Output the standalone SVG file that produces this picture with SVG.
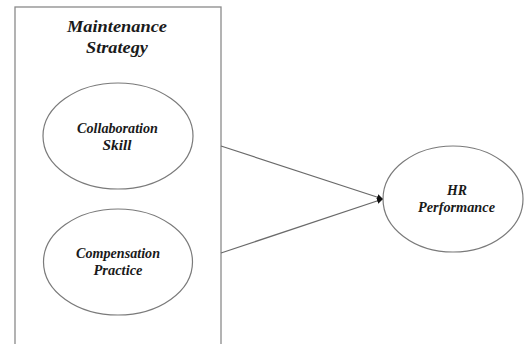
<svg xmlns="http://www.w3.org/2000/svg" width="524" height="344" viewBox="0 0 524 344">
<style>
.box{fill:none;stroke:#8a8a8a;stroke-width:1.3}
.node{fill:#fff;stroke:#7a7a7a;stroke-width:1.2}
.edge{stroke:#6a6a6a;stroke-width:1.2;fill:none}
.t{fill:#1a1a1a}
</style>
<defs>
<marker id="arr" markerWidth="8" markerHeight="8" refX="6" refY="3" orient="auto" markerUnits="userSpaceOnUse">
<path d="M0,0 L6,3 L0,6 z" fill="#111"/>
</marker>
</defs>
<rect width="524" height="344" fill="#fff"/>
<g id="group-maintenance">
<rect class="box" x="15" y="7" width="206" height="345"/>
<g class="t" font-family="Liberation Serif, serif" font-style="italic" font-weight="bold" font-size="17.5" text-anchor="middle">
<text x="117" y="32" textLength="100" lengthAdjust="spacingAndGlyphs">Maintenance</text>
<text x="117" y="53" textLength="62" lengthAdjust="spacingAndGlyphs">Strategy</text>
</g>
</g>
<g id="connectors">
<line class="edge" x1="221" y1="146" x2="383" y2="199" marker-end="url(#arr)"/>
<line class="edge" x1="221" y1="253" x2="383" y2="199" marker-end="url(#arr)"/>
</g>
<g id="collaboration">
<ellipse class="node" cx="118" cy="136" rx="75" ry="53"/>
<g class="t" font-family="Liberation Serif, serif" font-style="italic" font-weight="bold" font-size="14.5" text-anchor="middle">
<text x="117.5" y="133" textLength="81" lengthAdjust="spacingAndGlyphs">Collaboration</text>
<text x="117" y="150" textLength="29" lengthAdjust="spacingAndGlyphs">Skill</text>
</g>
</g>
<g id="compensation">
<ellipse class="node" cx="118" cy="262" rx="74.5" ry="53"/>
<g class="t" font-family="Liberation Serif, serif" font-style="italic" font-weight="bold" font-size="14.5" text-anchor="middle">
<text x="118" y="258" textLength="84" lengthAdjust="spacingAndGlyphs">Compensation</text>
<text x="118" y="275" textLength="49" lengthAdjust="spacingAndGlyphs">Practice</text>
</g>
</g>
<g id="hr">
<ellipse class="node" cx="453" cy="199" rx="70" ry="53"/>
<g class="t" font-family="Liberation Serif, serif" font-style="italic" font-weight="bold" font-size="14.5" text-anchor="middle">
<text x="457" y="195" textLength="20" lengthAdjust="spacingAndGlyphs">HR</text>
<text x="456.5" y="212" textLength="77" lengthAdjust="spacingAndGlyphs">Performance</text>
</g>
</g>
</svg>
